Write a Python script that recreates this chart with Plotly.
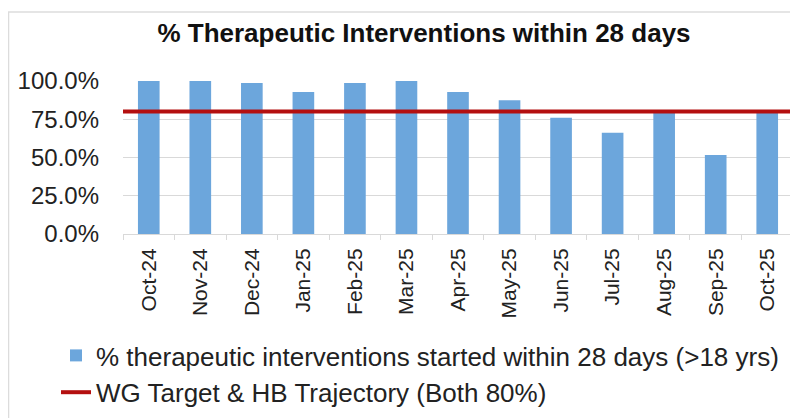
import plotly.graph_objects as go

months = ["Oct-24", "Nov-24", "Dec-24", "Jan-25", "Feb-25", "Mar-25", "Apr-25",
          "May-25", "Jun-25", "Jul-25", "Aug-25", "Sep-25", "Oct-25"]
pct_started = [1.00, 1.00, 0.987, 0.928, 0.987, 1.00, 0.928,
               0.874, 0.759, 0.662, 0.798, 0.516, 0.798]
target = [0.80] * len(months)
y_ticks = [0, 0.25, 0.5, 0.75, 1.0]

bar_name = "% therapeutic interventions started within 28 days (>18 yrs)"
line_name = "WG Target & HB Trajectory (Both 80%)"
title_text = "% Therapeutic Interventions within 28 days"

# page has an 8px body margin; work in figure pixel coordinates
OFF = 8
W, H = 790, 410
L, R, T, B = 123 - OFF, 5, 81 - OFF, 184
pw = W - L - R
ph = H - T - B

def px_x(p):
    return (p - OFF - L) / pw

def px_y(p):
    return (H - B - (p - OFF)) / ph

FONT = "Liberation Sans, Arial, sans-serif"

fig = go.Figure()
fig.add_trace(go.Bar(
    x=months, y=pct_started, name=bar_name,
    marker=dict(color="#6ca6dc", line=dict(width=0)),
    legendgroup="a",
))
fig.add_trace(go.Scatter(
    x=list(range(len(target))), y=target, name=line_name,
    mode="lines", line=dict(color="#b40f0f", width=4),
    xaxis="x2", legendgroup="b",
))

grid = "#d9d9d9"
fig.update_layout(
    width=W, height=H,
    margin=dict(l=L, r=R, t=T, b=B, autoexpand=False),
    paper_bgcolor="white", plot_bgcolor="white",
    font=dict(family=FONT, color="#222222"),
    bargap=0.58,
    showlegend=True,
    title=dict(text="<b>" + title_text + "</b>", xref="container", yref="container",
               x=(424 - OFF) / W, y=1 - (33 - OFF) / H, xanchor="center", yanchor="middle",
               font=dict(size=26, family=FONT, color="#111111")),
    xaxis=dict(
        type="category", tickangle=-90, tickfont=dict(size=21, color="#222222"),
        showgrid=False, showline=True, linecolor=grid, linewidth=1,
        ticks="outside", tickson="boundaries", ticklen=5, tickcolor=grid,
        ticklabelstandoff=5,
    ),
    xaxis2=dict(overlaying="x", range=[0, len(target) - 1], visible=False),
    yaxis=dict(
        range=[0, 1.0], tickvals=y_ticks, tickformat=".1%",
        tickfont=dict(size=24, color="#222222"),
        showgrid=True, gridcolor=grid, gridwidth=1,
        zeroline=False, showline=False, ticks="", ticklabelstandoff=23,
    ),
    legend=dict(
        xref="container", yref="container", x=48 / W, y=1 - 324 / H,
        xanchor="left", yanchor="top", orientation="v",
        traceorder="grouped", tracegroupgap=0,
        font=dict(size=26, family=FONT, color="#222222"),
        bgcolor="rgba(0,0,0,0)",
    ),
    shapes=[
        dict(type="line", xref="paper", yref="paper",
             x0=px_x(8), x1=px_x(800), y0=px_y(12), y1=px_y(12),
             line=dict(color="#dcdcdc", width=1.5)),
        dict(type="line", xref="paper", yref="paper",
             x0=px_x(8.5), x1=px_x(8.5), y0=px_y(12), y1=px_y(420),
             line=dict(color="#dcdcdc", width=1.5)),
    ],
)

fig.write_html("out.html")
